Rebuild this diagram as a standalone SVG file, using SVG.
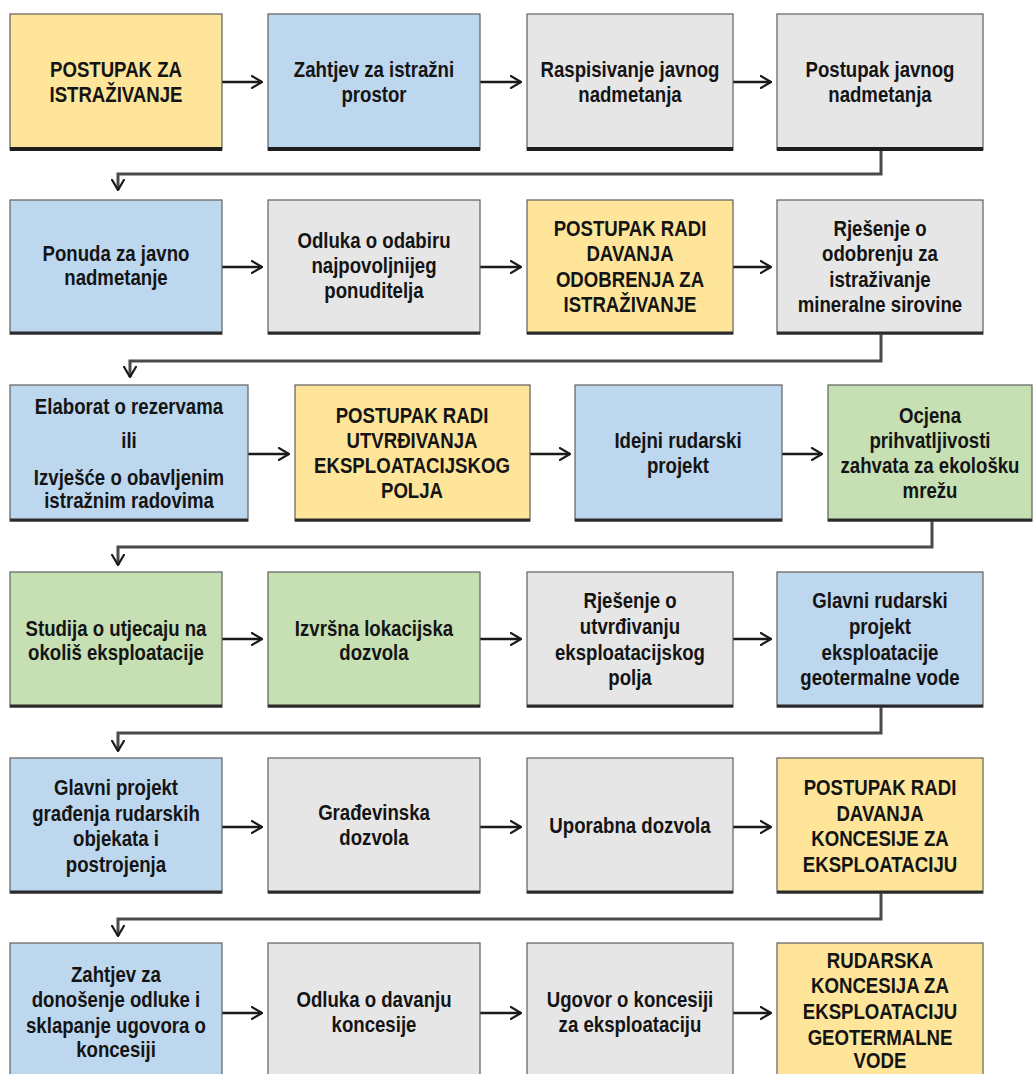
<svg xmlns="http://www.w3.org/2000/svg" width="1036" height="1074" viewBox="0 0 1036 1074">
<defs>
<style>
.box{stroke:#5f5f5f;stroke-width:1.2}
.yel{fill:#FEE599}
.blu{fill:#BDD7EE}
.gry{fill:#E6E6E6}
.grn{fill:#C6E0B4}
.bot{stroke:#2a2a2a;stroke-width:3}
.bot1{stroke:#1e1e1e;stroke-width:4}
.t{font-family:"Liberation Sans",Arial,sans-serif;font-weight:bold;font-size:23px;fill:#141414;text-anchor:middle}
.arr{stroke:#1a1a1a;stroke-width:2.5;fill:none}
.con{stroke:#4a4a4a;stroke-width:3;fill:none}
</style>
<marker id="ah" viewBox="0 0 12 14" refX="11" refY="7" markerWidth="12" markerHeight="14" markerUnits="userSpaceOnUse" orient="auto">
<path d="M0,0.5 L11,7 L0,13.5" fill="none" stroke="#1a1a1a" stroke-width="2.2"/>
</marker>
</defs>
<rect width="1036" height="1074" fill="#ffffff"/>

<g id="connectors">
<line class="arr" x1="222" y1="82" x2="262" y2="82" marker-end="url(#ah)"/>
<line class="arr" x1="480" y1="82" x2="521" y2="82" marker-end="url(#ah)"/>
<line class="arr" x1="733" y1="82" x2="771" y2="82" marker-end="url(#ah)"/>
<path class="con" d="M881,150 V174 H118 V190" marker-end="url(#ah)"/>
<line class="arr" x1="222" y1="267" x2="262" y2="267" marker-end="url(#ah)"/>
<line class="arr" x1="480" y1="267" x2="521" y2="267" marker-end="url(#ah)"/>
<line class="arr" x1="733" y1="267" x2="771" y2="267" marker-end="url(#ah)"/>
<path class="con" d="M881,334 V361 H130 V377" marker-end="url(#ah)"/>
<line class="arr" x1="248" y1="454" x2="289" y2="454" marker-end="url(#ah)"/>
<line class="arr" x1="530" y1="454" x2="570" y2="454" marker-end="url(#ah)"/>
<line class="arr" x1="782" y1="454" x2="822" y2="454" marker-end="url(#ah)"/>
<path class="con" d="M932,521 V547 H118 V565" marker-end="url(#ah)"/>
<line class="arr" x1="222" y1="639" x2="262" y2="639" marker-end="url(#ah)"/>
<line class="arr" x1="480" y1="639" x2="521" y2="639" marker-end="url(#ah)"/>
<line class="arr" x1="733" y1="639" x2="771" y2="639" marker-end="url(#ah)"/>
<path class="con" d="M881,707 V733 H118 V751" marker-end="url(#ah)"/>
<line class="arr" x1="222" y1="827" x2="262" y2="827" marker-end="url(#ah)"/>
<line class="arr" x1="480" y1="827" x2="521" y2="827" marker-end="url(#ah)"/>
<line class="arr" x1="733" y1="827" x2="771" y2="827" marker-end="url(#ah)"/>
<path class="con" d="M881,893 V919 H118 V936" marker-end="url(#ah)"/>
<line class="arr" x1="222" y1="1013" x2="262" y2="1013" marker-end="url(#ah)"/>
<line class="arr" x1="480" y1="1013" x2="521" y2="1013" marker-end="url(#ah)"/>
<line class="arr" x1="733" y1="1013" x2="771" y2="1013" marker-end="url(#ah)"/>
</g>

<g id="n1"><rect class="box yel" x="10" y="14" width="212" height="136"/><line class="bot1" x1="10" y1="149" x2="222" y2="149"/>
<text class="t" transform="translate(116 0) scale(0.81 1) translate(-116 0)"><tspan x="116" y="77">POSTUPAK ZA</tspan><tspan x="116" y="102">ISTRAŽIVANJE</tspan></text></g>
<g id="n2"><rect class="box blu" x="268" y="14" width="212" height="136"/><line class="bot1" x1="268" y1="149" x2="480" y2="149"/>
<text class="t" transform="translate(374 0) scale(0.81 1) translate(-374 0)"><tspan x="374" y="77">Zahtjev za istražni</tspan><tspan x="374" y="102">prostor</tspan></text></g>
<g id="n3"><rect class="box gry" x="527" y="14" width="206" height="136"/><line class="bot1" x1="527" y1="149" x2="733" y2="149"/>
<text class="t" transform="translate(630 0) scale(0.81 1) translate(-630 0)"><tspan x="630" y="77">Raspisivanje javnog</tspan><tspan x="630" y="102">nadmetanja</tspan></text></g>
<g id="n4"><rect class="box gry" x="777" y="14" width="206" height="136"/><line class="bot1" x1="777" y1="149" x2="983" y2="149"/>
<text class="t" transform="translate(880 0) scale(0.81 1) translate(-880 0)"><tspan x="880" y="77">Postupak javnog</tspan><tspan x="880" y="102">nadmetanja</tspan></text></g>

<g id="n5"><rect class="box blu" x="10" y="200" width="212" height="134"/><line class="bot" x1="10" y1="333" x2="222" y2="333"/>
<text class="t" transform="translate(116 0) scale(0.81 1) translate(-116 0)"><tspan x="116" y="261">Ponuda za javno</tspan><tspan x="116" y="285">nadmetanje</tspan></text></g>
<g id="n6"><rect class="box gry" x="268" y="200" width="212" height="134"/><line class="bot" x1="268" y1="333" x2="480" y2="333"/>
<text class="t" transform="translate(374 0) scale(0.81 1) translate(-374 0)"><tspan x="374" y="248">Odluka o odabiru</tspan><tspan x="374" y="273">najpovoljnijeg</tspan><tspan x="374" y="298">ponuditelja</tspan></text></g>
<g id="n7"><rect class="box yel" x="527" y="200" width="206" height="134"/><line class="bot" x1="527" y1="333" x2="733" y2="333"/>
<text class="t" transform="translate(630 0) scale(0.81 1) translate(-630 0)"><tspan x="630" y="236">POSTUPAK RADI</tspan><tspan x="630" y="261.5">DAVANJA</tspan><tspan x="630" y="287">ODOBRENJA ZA</tspan><tspan x="630" y="312.5">ISTRAŽIVANJE</tspan></text></g>
<g id="n8"><rect class="box gry" x="777" y="200" width="206" height="134"/><line class="bot" x1="777" y1="333" x2="983" y2="333"/>
<text class="t" transform="translate(880 0) scale(0.81 1) translate(-880 0)"><tspan x="880" y="236">Rješenje o</tspan><tspan x="880" y="261.5">odobrenju za</tspan><tspan x="880" y="287">istraživanje</tspan><tspan x="880" y="312.5">mineralne sirovine</tspan></text></g>

<g id="n9"><rect class="box blu" x="10" y="385" width="238" height="136"/><line class="bot" x1="10" y1="520" x2="248" y2="520"/>
<text class="t" transform="translate(129 0) scale(0.81 1) translate(-129 0)"><tspan x="129" y="414">Elaborat o rezervama</tspan><tspan x="129" y="448">ili</tspan><tspan x="129" y="485">Izvješće o obavljenim</tspan><tspan x="129" y="508">istražnim radovima</tspan></text></g>
<g id="n10"><rect class="box yel" x="295" y="385" width="235" height="136"/><line class="bot" x1="295" y1="520" x2="530" y2="520"/>
<text class="t" transform="translate(412 0) scale(0.81 1) translate(-412 0)"><tspan x="412" y="423">POSTUPAK RADI</tspan><tspan x="412" y="448">UTVRĐIVANJA</tspan><tspan x="412" y="473">EKSPLOATACIJSKOG</tspan><tspan x="412" y="498">POLJA</tspan></text></g>
<g id="n11"><rect class="box blu" x="575" y="385" width="207" height="136"/><line class="bot" x1="575" y1="520" x2="782" y2="520"/>
<text class="t" transform="translate(678 0) scale(0.81 1) translate(-678 0)"><tspan x="678" y="448">Idejni rudarski</tspan><tspan x="678" y="473">projekt</tspan></text></g>
<g id="n12"><rect class="box grn" x="828" y="385" width="204" height="136"/><line class="bot" x1="828" y1="520" x2="1032" y2="520"/>
<text class="t" transform="translate(930 0) scale(0.81 1) translate(-930 0)"><tspan x="930" y="423">Ocjena</tspan><tspan x="930" y="448">prihvatljivosti</tspan><tspan x="930" y="473">zahvata za ekološku</tspan><tspan x="930" y="498">mrežu</tspan></text></g>

<g id="n13"><rect class="box grn" x="10" y="572" width="212" height="135"/><line class="bot" x1="10" y1="706" x2="222" y2="706"/>
<text class="t" transform="translate(116 0) scale(0.81 1) translate(-116 0)"><tspan x="116" y="636">Studija o utjecaju na</tspan><tspan x="116" y="660">okoliš eksploatacije</tspan></text></g>
<g id="n14"><rect class="box grn" x="268" y="572" width="212" height="135"/><line class="bot" x1="268" y1="706" x2="480" y2="706"/>
<text class="t" transform="translate(374 0) scale(0.81 1) translate(-374 0)"><tspan x="374" y="636">Izvršna lokacijska</tspan><tspan x="374" y="660">dozvola</tspan></text></g>
<g id="n15"><rect class="box gry" x="527" y="572" width="206" height="135"/><line class="bot" x1="527" y1="706" x2="733" y2="706"/>
<text class="t" transform="translate(630 0) scale(0.81 1) translate(-630 0)"><tspan x="630" y="608">Rješenje o</tspan><tspan x="630" y="634">utvrđivanju</tspan><tspan x="630" y="660">eksploatacijskog</tspan><tspan x="630" y="685">polja</tspan></text></g>
<g id="n16"><rect class="box blu" x="777" y="572" width="206" height="135"/><line class="bot" x1="777" y1="706" x2="983" y2="706"/>
<text class="t" transform="translate(880 0) scale(0.81 1) translate(-880 0)"><tspan x="880" y="608">Glavni rudarski</tspan><tspan x="880" y="634">projekt</tspan><tspan x="880" y="660">eksploatacije</tspan><tspan x="880" y="685">geotermalne vode</tspan></text></g>

<g id="n17"><rect class="box blu" x="10" y="758" width="212" height="135"/><line class="bot" x1="10" y1="892" x2="222" y2="892"/>
<text class="t" transform="translate(116 0) scale(0.81 1) translate(-116 0)"><tspan x="116" y="795">Glavni projekt</tspan><tspan x="116" y="821">građenja rudarskih</tspan><tspan x="116" y="846">objekata i</tspan><tspan x="116" y="872">postrojenja</tspan></text></g>
<g id="n18"><rect class="box gry" x="268" y="758" width="212" height="135"/><line class="bot" x1="268" y1="892" x2="480" y2="892"/>
<text class="t" transform="translate(374 0) scale(0.81 1) translate(-374 0)"><tspan x="374" y="820">Građevinska</tspan><tspan x="374" y="845">dozvola</tspan></text></g>
<g id="n19"><rect class="box gry" x="527" y="758" width="206" height="135"/><line class="bot" x1="527" y1="892" x2="733" y2="892"/>
<text class="t" transform="translate(630 0) scale(0.81 1) translate(-630 0)"><tspan x="630" y="833">Uporabna dozvola</tspan></text></g>
<g id="n20"><rect class="box yel" x="777" y="758" width="206" height="135"/><line class="bot" x1="777" y1="892" x2="983" y2="892"/>
<text class="t" transform="translate(880 0) scale(0.81 1) translate(-880 0)"><tspan x="880" y="795">POSTUPAK RADI</tspan><tspan x="880" y="821">DAVANJA</tspan><tspan x="880" y="846">KONCESIJE ZA</tspan><tspan x="880" y="872">EKSPLOATACIJU</tspan></text></g>

<g id="n21"><rect class="box blu" x="10" y="943" width="212" height="140"/>
<text class="t" transform="translate(116 0) scale(0.81 1) translate(-116 0)"><tspan x="116" y="982">Zahtjev za</tspan><tspan x="116" y="1007">donošenje odluke i</tspan><tspan x="116" y="1033">sklapanje ugovora o</tspan><tspan x="116" y="1057">koncesiji</tspan></text></g>
<g id="n22"><rect class="box gry" x="268" y="943" width="212" height="140"/>
<text class="t" transform="translate(374 0) scale(0.81 1) translate(-374 0)"><tspan x="374" y="1007">Odluka o davanju</tspan><tspan x="374" y="1032">koncesije</tspan></text></g>
<g id="n23"><rect class="box gry" x="527" y="943" width="206" height="140"/>
<text class="t" transform="translate(630 0) scale(0.81 1) translate(-630 0)"><tspan x="630" y="1007">Ugovor o koncesiji</tspan><tspan x="630" y="1032">za eksploataciju</tspan></text></g>
<g id="n24"><rect class="box yel" x="777" y="943" width="206" height="140"/>
<text class="t" transform="translate(880 0) scale(0.81 1) translate(-880 0)"><tspan x="880" y="968">RUDARSKA</tspan><tspan x="880" y="993">KONCESIJA ZA</tspan><tspan x="880" y="1019">EKSPLOATACIJU</tspan><tspan x="880" y="1045">GEOTERMALNE</tspan><tspan x="880" y="1068">VODE</tspan></text></g>
</svg>
